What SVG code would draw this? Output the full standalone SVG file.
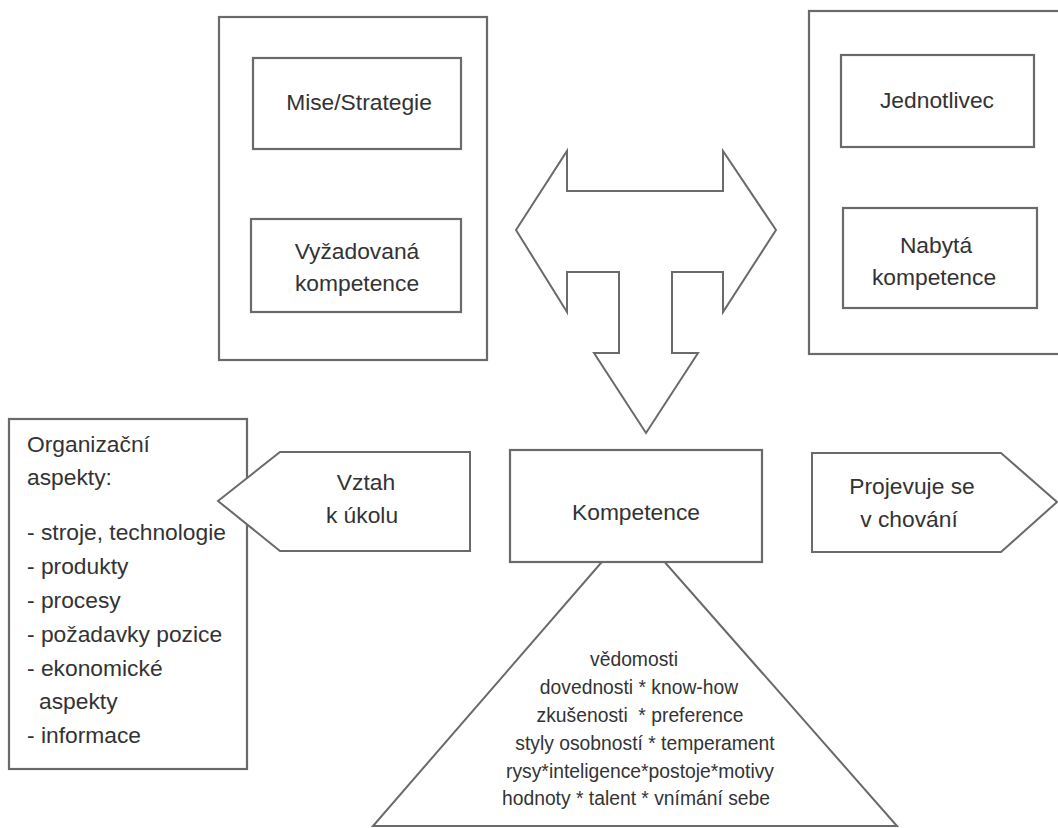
<svg xmlns="http://www.w3.org/2000/svg" width="1058" height="828" viewBox="0 0 1058 828">
<style>
.box{fill:#fff;stroke:#6a6a6a;stroke-width:2.2}
.shape{fill:#fff;stroke:#6a6a6a;stroke-width:2}
.t{font-family:"Liberation Sans",Arial,sans-serif;font-size:22.8px;fill:#333}
.c{text-anchor:middle}
.s{font-size:19.3px}
</style>
<rect width="1058" height="828" fill="#fff"/>
<g id="organizace">
<rect class="box" x="219" y="17" width="268" height="343"/>
</g>
<g id="mise-strategie">
<rect class="box" x="253" y="58" width="208" height="91"/>
<text class="t c" x="359" y="110">Mise/Strategie</text>
</g>
<g id="vyzadovana-kompetence">
<rect class="box" x="251" y="219" width="210" height="93"/>
<text class="t c" x="357" y="259">Vyžadovaná</text>
<text class="t c" x="357" y="291">kompetence</text>
</g>
<g id="osoba">
<rect class="box" x="809" y="11" width="252" height="343"/>
</g>
<g id="jednotlivec">
<rect class="box" x="841" y="55" width="193" height="92"/>
<text class="t c" x="937" y="108">Jednotlivec</text>
</g>
<g id="nabyta-kompetence">
<rect class="box" x="843" y="208" width="194" height="100"/>
<text class="t c" x="936" y="253">Nabytá</text>
<text class="t c" x="934" y="285">kompetence</text>
</g>
<g id="connectors">
<polygon class="shape" points="516,230 567,151 567,191 723,191 723,151 776,230 723,312 723,272 672,272 672,353 698,353 646,433 594,353 619,353 619,272 567,272 567,312"/>
</g>
<g id="zaklad">
<polygon class="shape" points="633,526 373,826 897,826"/>
<text class="t c s" x="634" y="666">vědomosti</text>
<text class="t c s" x="639" y="694">dovednosti * know-how</text>
<text class="t c s" x="640" y="722" xml:space="preserve">zkušenosti  * preference</text>
<text class="t c s" x="645" y="750">styly osobností * temperament</text>
<text class="t c s" x="640" y="778">rysy*inteligence*postoje*motivy</text>
<text class="t c s" x="636" y="805">hodnoty * talent * vnímání sebe</text>
</g>
<g id="kompetence">
<rect class="box" x="510" y="450" width="252" height="112"/>
<text class="t c" x="636" y="520">Kompetence</text>
</g>
<g id="organizacni-aspekty">
<rect class="box" x="9" y="419" width="238" height="350"/>
<text class="t" x="27" y="452">Organizační</text>
<text class="t" x="27" y="485">aspekty:</text>
<text class="t" x="27" y="540">- stroje, technologie</text>
<text class="t" x="27" y="574">- produkty</text>
<text class="t" x="27" y="608">- procesy</text>
<text class="t" x="27" y="642">- požadavky pozice</text>
<text class="t" x="27" y="676">- ekonomické</text>
<text class="t" x="39" y="709">aspekty</text>
<text class="t" x="27" y="743">- informace</text>
</g>
<g id="vztah-k-ukolu">
<polygon class="shape" points="218,501 280,452 470,452 470,551 280,551"/>
<text class="t c" x="366" y="490">Vztah</text>
<text class="t c" x="362" y="523">k úkolu</text>
</g>
<g id="projevuje-se">
<polygon class="shape" points="812,453 1001,453 1057,502 1001,552 812,552"/>
<text class="t c" x="912" y="494">Projevuje se</text>
<text class="t c" x="909" y="527">v chování</text>
</g>
</svg>
